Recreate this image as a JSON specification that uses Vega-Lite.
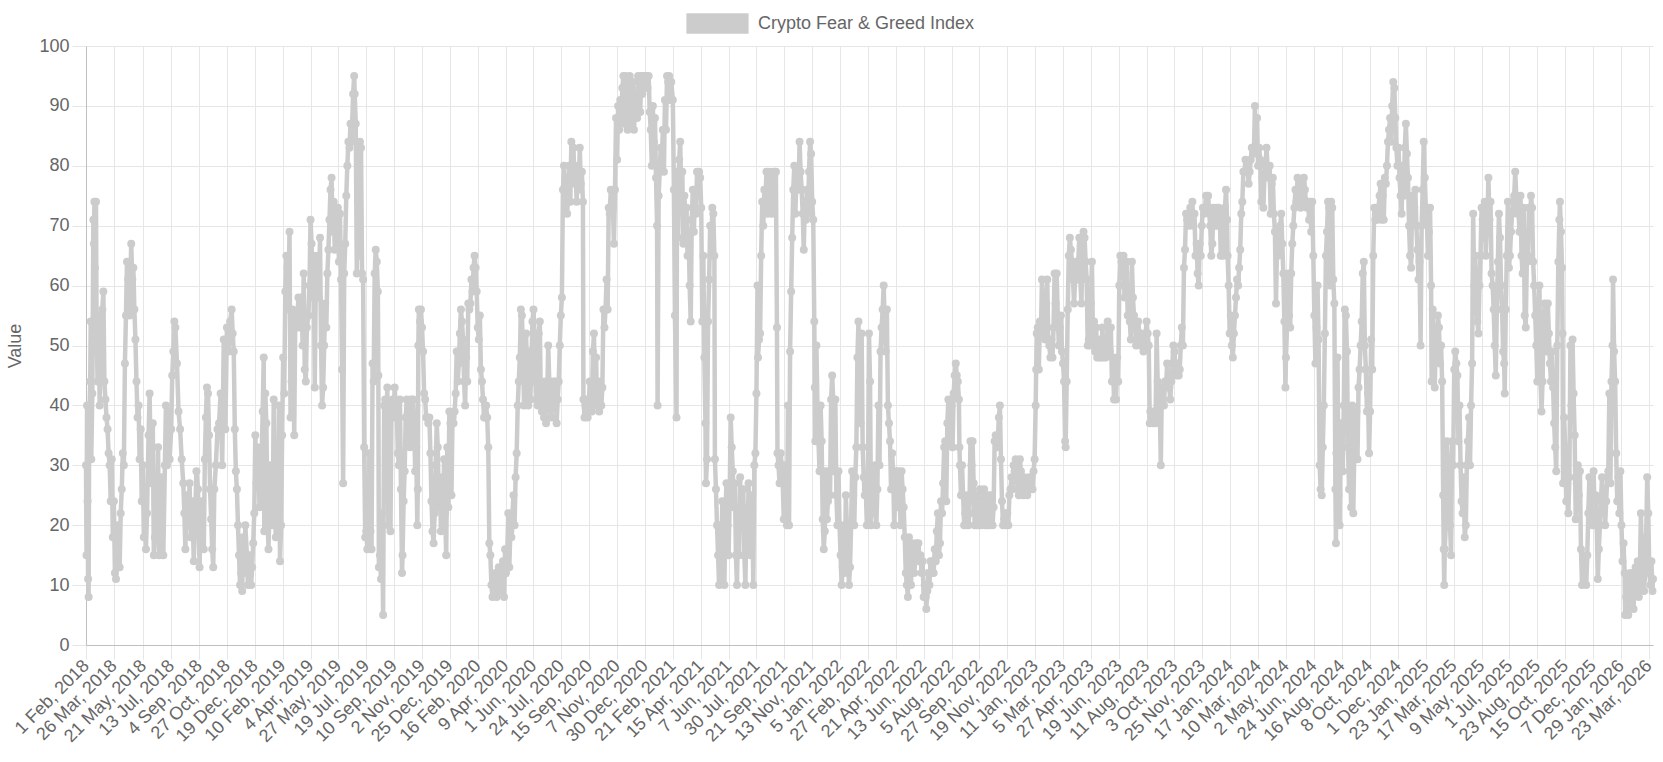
{
"$schema":"https://vega.github.io/schema/vega-lite/v6.json",
"width":1567,"height":599,
"autosize":{"type":"none"},
"padding":{"left":86,"top":46,"right":10,"bottom":117},
"background":"white",
"config":{"font":"Liberation Sans","view":{"stroke":null},
"axis":{"labelFont":"Liberation Sans","labelFontSize":18,"labelColor":"#666666","titleFont":"Liberation Sans","titleFontSize":18,"titleFontWeight":"normal","titleColor":"#666666","gridColor":"#e6e6e6","gridOpacity":1,"tickColor":"#e6e6e6","tickSize":14,"domainColor":"#bfbfbf"}},
"data":{"values":[
{"d":"2018-02-01","v":30},{"d":"2018-02-02","v":15},{"d":"2018-02-03","v":40},{"d":"2018-02-04","v":24},{"d":"2018-02-05","v":11},{"d":"2018-02-06","v":8},{"d":"2018-02-07","v":36},{"d":"2018-02-09","v":44},{"d":"2018-02-10","v":54},{"d":"2018-02-11","v":31},{"d":"2018-02-13","v":42},{"d":"2018-02-15","v":71},{"d":"2018-02-16","v":67},{"d":"2018-02-17","v":74},{"d":"2018-02-18","v":63},{"d":"2018-02-20","v":74},{"d":"2018-02-21","v":54},{"d":"2018-02-23","v":44},{"d":"2018-02-25","v":55},{"d":"2018-02-27","v":40},
{"d":"2018-03-01","v":49},{"d":"2018-03-04","v":56},{"d":"2018-03-06","v":59},{"d":"2018-03-08","v":44},{"d":"2018-03-10","v":41},{"d":"2018-03-12","v":38},{"d":"2018-03-14","v":36},{"d":"2018-03-16","v":32},{"d":"2018-03-18","v":30},{"d":"2018-03-20","v":24},{"d":"2018-03-22","v":31},{"d":"2018-03-24","v":18},{"d":"2018-03-26","v":24},{"d":"2018-03-28","v":12},{"d":"2018-03-30","v":11},
{"d":"2018-04-01","v":15},{"d":"2018-04-03","v":20},{"d":"2018-04-06","v":13},{"d":"2018-04-08","v":22},{"d":"2018-04-10","v":26},{"d":"2018-04-12","v":32},{"d":"2018-04-14","v":30},{"d":"2018-04-16","v":47},{"d":"2018-04-18","v":55},{"d":"2018-04-20","v":64},{"d":"2018-04-22","v":61},{"d":"2018-04-25","v":55},{"d":"2018-04-28","v":67},{"d":"2018-04-30","v":61},
{"d":"2018-05-02","v":63},{"d":"2018-05-04","v":56},{"d":"2018-05-06","v":51},{"d":"2018-05-08","v":44},{"d":"2018-05-10","v":38},{"d":"2018-05-12","v":40},{"d":"2018-05-14","v":31},{"d":"2018-05-16","v":36},{"d":"2018-05-18","v":24},{"d":"2018-05-20","v":30},{"d":"2018-05-22","v":18},{"d":"2018-05-24","v":26},{"d":"2018-05-26","v":16},{"d":"2018-05-28","v":22},{"d":"2018-05-31","v":35},
{"d":"2018-06-02","v":42},{"d":"2018-06-04","v":30},{"d":"2018-06-06","v":27},{"d":"2018-06-08","v":37},{"d":"2018-06-10","v":15},{"d":"2018-06-12","v":18},{"d":"2018-06-14","v":25},{"d":"2018-06-16","v":20},{"d":"2018-06-18","v":33},{"d":"2018-06-20","v":15},{"d":"2018-06-22","v":23},{"d":"2018-06-24","v":16},{"d":"2018-06-26","v":28},{"d":"2018-06-28","v":15},
{"d":"2018-07-01","v":30},{"d":"2018-07-03","v":40},{"d":"2018-07-05","v":30},{"d":"2018-07-08","v":39},{"d":"2018-07-10","v":31},{"d":"2018-07-13","v":36},{"d":"2018-07-15","v":45},{"d":"2018-07-17","v":49},{"d":"2018-07-19","v":54},{"d":"2018-07-21","v":53},{"d":"2018-07-24","v":47},{"d":"2018-07-27","v":39},{"d":"2018-07-30","v":36},
{"d":"2018-08-02","v":31},{"d":"2018-08-05","v":27},{"d":"2018-08-07","v":22},{"d":"2018-08-09","v":16},{"d":"2018-08-11","v":25},{"d":"2018-08-14","v":20},{"d":"2018-08-17","v":27},{"d":"2018-08-19","v":18},{"d":"2018-08-22","v":24},{"d":"2018-08-25","v":14},{"d":"2018-08-27","v":20},{"d":"2018-08-30","v":29},
{"d":"2018-09-02","v":26},{"d":"2018-09-05","v":13},{"d":"2018-09-07","v":22},{"d":"2018-09-10","v":24},{"d":"2018-09-13","v":16},{"d":"2018-09-15","v":31},{"d":"2018-09-17","v":38},{"d":"2018-09-19","v":43},{"d":"2018-09-21","v":42},{"d":"2018-09-23","v":35},{"d":"2018-09-25","v":26},{"d":"2018-09-27","v":21},{"d":"2018-09-29","v":16},
{"d":"2018-10-01","v":13},{"d":"2018-10-03","v":26},{"d":"2018-10-06","v":30},{"d":"2018-10-09","v":36},{"d":"2018-10-12","v":37},{"d":"2018-10-15","v":42},{"d":"2018-10-18","v":30},{"d":"2018-10-21","v":51},{"d":"2018-10-24","v":36},{"d":"2018-10-27","v":53},{"d":"2018-10-30","v":49},
{"d":"2018-11-02","v":54},{"d":"2018-11-05","v":56},{"d":"2018-11-07","v":52},{"d":"2018-11-09","v":49},{"d":"2018-11-11","v":36},{"d":"2018-11-13","v":29},{"d":"2018-11-15","v":26},{"d":"2018-11-17","v":20},{"d":"2018-11-19","v":15},{"d":"2018-11-21","v":10},{"d":"2018-11-23","v":12},{"d":"2018-11-25","v":9},{"d":"2018-11-27","v":18},{"d":"2018-11-29","v":12},
{"d":"2018-12-01","v":20},{"d":"2018-12-04","v":15},{"d":"2018-12-06","v":10},{"d":"2018-12-08","v":13},{"d":"2018-12-10","v":15},{"d":"2018-12-12","v":10},{"d":"2018-12-14","v":13},{"d":"2018-12-16","v":17},{"d":"2018-12-18","v":22},{"d":"2018-12-20","v":35},{"d":"2018-12-22","v":27},{"d":"2018-12-24","v":33},{"d":"2018-12-26","v":30},{"d":"2018-12-28","v":23},{"d":"2018-12-30","v":27},
{"d":"2019-01-01","v":31},{"d":"2019-01-03","v":39},{"d":"2019-01-05","v":48},{"d":"2019-01-06","v":19},{"d":"2019-01-08","v":42},{"d":"2019-01-10","v":37},{"d":"2019-01-12","v":22},{"d":"2019-01-14","v":16},{"d":"2019-01-16","v":23},{"d":"2019-01-18","v":30},{"d":"2019-01-20","v":27},{"d":"2019-01-22","v":20},{"d":"2019-01-24","v":41},{"d":"2019-01-26","v":23},{"d":"2019-01-28","v":18},{"d":"2019-01-30","v":25},
{"d":"2019-02-01","v":22},{"d":"2019-02-03","v":40},{"d":"2019-02-05","v":14},{"d":"2019-02-07","v":20},{"d":"2019-02-09","v":35},{"d":"2019-02-11","v":48},{"d":"2019-02-13","v":42},{"d":"2019-02-15","v":59},{"d":"2019-02-17","v":65},{"d":"2019-02-19","v":63},{"d":"2019-02-21","v":56},{"d":"2019-02-23","v":69},{"d":"2019-02-25","v":38},{"d":"2019-02-27","v":44},
{"d":"2019-03-01","v":56},{"d":"2019-03-04","v":35},{"d":"2019-03-06","v":55},{"d":"2019-03-08","v":53},{"d":"2019-03-10","v":55},{"d":"2019-03-12","v":58},{"d":"2019-03-14","v":53},{"d":"2019-03-16","v":55},{"d":"2019-03-18","v":58},{"d":"2019-03-20","v":50},{"d":"2019-03-22","v":62},{"d":"2019-03-24","v":46},{"d":"2019-03-26","v":44},{"d":"2019-03-28","v":53},{"d":"2019-03-31","v":55},
{"d":"2019-04-02","v":60},{"d":"2019-04-04","v":71},{"d":"2019-04-06","v":67},{"d":"2019-04-08","v":58},{"d":"2019-04-10","v":65},{"d":"2019-04-12","v":43},{"d":"2019-04-14","v":60},{"d":"2019-04-16","v":63},{"d":"2019-04-18","v":65},{"d":"2019-04-20","v":58},{"d":"2019-04-22","v":68},{"d":"2019-04-24","v":50},{"d":"2019-04-26","v":40},{"d":"2019-04-28","v":43},{"d":"2019-04-30","v":50},
{"d":"2019-05-02","v":57},{"d":"2019-05-04","v":53},{"d":"2019-05-06","v":62},{"d":"2019-05-08","v":66},{"d":"2019-05-10","v":71},{"d":"2019-05-12","v":76},{"d":"2019-05-14","v":78},{"d":"2019-05-16","v":69},{"d":"2019-05-18","v":74},{"d":"2019-05-20","v":66},{"d":"2019-05-22","v":71},{"d":"2019-05-24","v":68},{"d":"2019-05-26","v":73},{"d":"2019-05-28","v":64},{"d":"2019-05-30","v":72},
{"d":"2019-06-01","v":61},{"d":"2019-06-03","v":46},{"d":"2019-06-05","v":27},{"d":"2019-06-07","v":62},{"d":"2019-06-09","v":67},{"d":"2019-06-11","v":75},{"d":"2019-06-13","v":80},{"d":"2019-06-15","v":84},{"d":"2019-06-17","v":83},{"d":"2019-06-19","v":87},{"d":"2019-06-21","v":84},{"d":"2019-06-24","v":92},{"d":"2019-06-26","v":95},{"d":"2019-06-27","v":92},{"d":"2019-06-29","v":87},
{"d":"2019-07-01","v":62},{"d":"2019-07-03","v":74},{"d":"2019-07-05","v":65},{"d":"2019-07-07","v":84},{"d":"2019-07-09","v":83},{"d":"2019-07-11","v":62},{"d":"2019-07-13","v":61},{"d":"2019-07-15","v":33},{"d":"2019-07-17","v":18},{"d":"2019-07-19","v":19},{"d":"2019-07-21","v":16},{"d":"2019-07-23","v":22},{"d":"2019-07-25","v":32},{"d":"2019-07-27","v":19},{"d":"2019-07-29","v":16},{"d":"2019-07-31","v":47},
{"d":"2019-08-02","v":44},{"d":"2019-08-04","v":62},{"d":"2019-08-06","v":66},{"d":"2019-08-08","v":64},{"d":"2019-08-10","v":59},{"d":"2019-08-11","v":45},{"d":"2019-08-12","v":13},{"d":"2019-08-14","v":15},{"d":"2019-08-16","v":11},{"d":"2019-08-18","v":22},{"d":"2019-08-20","v":5},{"d":"2019-08-22","v":40},{"d":"2019-08-24","v":41},{"d":"2019-08-26","v":37},{"d":"2019-08-28","v":43},{"d":"2019-08-30","v":20},
{"d":"2019-09-01","v":39},{"d":"2019-09-03","v":19},{"d":"2019-09-05","v":40},{"d":"2019-09-07","v":41},{"d":"2019-09-09","v":38},{"d":"2019-09-11","v":43},{"d":"2019-09-13","v":40},{"d":"2019-09-15","v":39},{"d":"2019-09-17","v":32},{"d":"2019-09-19","v":30},{"d":"2019-09-21","v":41},{"d":"2019-09-23","v":26},{"d":"2019-09-25","v":12},{"d":"2019-09-26","v":15},{"d":"2019-09-28","v":24},{"d":"2019-09-30","v":29},
{"d":"2019-10-02","v":38},{"d":"2019-10-04","v":41},{"d":"2019-10-06","v":37},{"d":"2019-10-08","v":40},{"d":"2019-10-10","v":33},{"d":"2019-10-12","v":41},{"d":"2019-10-14","v":38},{"d":"2019-10-16","v":41},{"d":"2019-10-18","v":37},{"d":"2019-10-20","v":29},{"d":"2019-10-22","v":33},{"d":"2019-10-24","v":20},{"d":"2019-10-25","v":26},{"d":"2019-10-26","v":50},{"d":"2019-10-27","v":56},{"d":"2019-10-29","v":54},{"d":"2019-10-31","v":56},
{"d":"2019-11-02","v":53},{"d":"2019-11-04","v":49},{"d":"2019-11-06","v":42},{"d":"2019-11-08","v":41},{"d":"2019-11-10","v":38},{"d":"2019-11-12","v":38},{"d":"2019-11-14","v":37},{"d":"2019-11-16","v":38},{"d":"2019-11-18","v":32},{"d":"2019-11-20","v":24},{"d":"2019-11-22","v":19},{"d":"2019-11-24","v":17},{"d":"2019-11-26","v":22},{"d":"2019-11-28","v":30},{"d":"2019-11-30","v":37},
{"d":"2019-12-02","v":33},{"d":"2019-12-04","v":23},{"d":"2019-12-06","v":28},{"d":"2019-12-08","v":19},{"d":"2019-12-10","v":25},{"d":"2019-12-12","v":20},{"d":"2019-12-14","v":31},{"d":"2019-12-16","v":22},{"d":"2019-12-18","v":15},{"d":"2019-12-20","v":33},{"d":"2019-12-22","v":23},{"d":"2019-12-24","v":39},{"d":"2019-12-26","v":37},{"d":"2019-12-28","v":25},{"d":"2019-12-30","v":38},
{"d":"2020-01-01","v":37},{"d":"2020-01-03","v":39},{"d":"2020-01-05","v":42},{"d":"2020-01-07","v":49},{"d":"2020-01-09","v":44},{"d":"2020-01-11","v":47},{"d":"2020-01-13","v":52},{"d":"2020-01-15","v":56},{"d":"2020-01-17","v":54},{"d":"2020-01-19","v":51},{"d":"2020-01-21","v":44},{"d":"2020-01-23","v":40},{"d":"2020-01-25","v":48},{"d":"2020-01-27","v":44},{"d":"2020-01-29","v":57},{"d":"2020-01-31","v":56},
{"d":"2020-02-02","v":57},{"d":"2020-02-04","v":61},{"d":"2020-02-06","v":59},{"d":"2020-02-08","v":63},{"d":"2020-02-10","v":65},{"d":"2020-02-12","v":63},{"d":"2020-02-14","v":59},{"d":"2020-02-16","v":53},{"d":"2020-02-18","v":51},{"d":"2020-02-20","v":55},{"d":"2020-02-22","v":46},{"d":"2020-02-24","v":44},{"d":"2020-02-26","v":41},{"d":"2020-02-28","v":38},
{"d":"2020-03-01","v":38},{"d":"2020-03-03","v":40},{"d":"2020-03-05","v":38},{"d":"2020-03-07","v":33},{"d":"2020-03-09","v":17},{"d":"2020-03-11","v":15},{"d":"2020-03-13","v":10},{"d":"2020-03-15","v":8},{"d":"2020-03-17","v":11},{"d":"2020-03-19","v":9},{"d":"2020-03-21","v":12},{"d":"2020-03-23","v":8},{"d":"2020-03-25","v":11},{"d":"2020-03-27","v":13},{"d":"2020-03-29","v":9},{"d":"2020-03-31","v":12},
{"d":"2020-04-02","v":10},{"d":"2020-04-04","v":14},{"d":"2020-04-06","v":8},{"d":"2020-04-08","v":16},{"d":"2020-04-10","v":12},{"d":"2020-04-12","v":15},{"d":"2020-04-14","v":22},{"d":"2020-04-16","v":13},{"d":"2020-04-18","v":19},{"d":"2020-04-20","v":18},{"d":"2020-04-22","v":22},{"d":"2020-04-24","v":25},{"d":"2020-04-26","v":20},{"d":"2020-04-28","v":28},{"d":"2020-04-30","v":32},
{"d":"2020-05-02","v":40},{"d":"2020-05-04","v":44},{"d":"2020-05-06","v":48},{"d":"2020-05-08","v":56},{"d":"2020-05-10","v":55},{"d":"2020-05-12","v":49},{"d":"2020-05-14","v":40},{"d":"2020-05-16","v":44},{"d":"2020-05-18","v":52},{"d":"2020-05-20","v":42},{"d":"2020-05-22","v":40},{"d":"2020-05-24","v":49},{"d":"2020-05-26","v":41},{"d":"2020-05-28","v":47},{"d":"2020-05-30","v":54},
{"d":"2020-06-01","v":56},{"d":"2020-06-03","v":52},{"d":"2020-06-05","v":44},{"d":"2020-06-07","v":41},{"d":"2020-06-09","v":40},{"d":"2020-06-11","v":52},{"d":"2020-06-13","v":54},{"d":"2020-06-15","v":40},{"d":"2020-06-17","v":39},{"d":"2020-06-19","v":42},{"d":"2020-06-21","v":38},{"d":"2020-06-23","v":44},{"d":"2020-06-25","v":37},{"d":"2020-06-27","v":41},{"d":"2020-06-29","v":50},
{"d":"2020-07-01","v":44},{"d":"2020-07-03","v":42},{"d":"2020-07-05","v":38},{"d":"2020-07-07","v":41},{"d":"2020-07-09","v":44},{"d":"2020-07-11","v":40},{"d":"2020-07-13","v":44},{"d":"2020-07-15","v":37},{"d":"2020-07-17","v":41},{"d":"2020-07-19","v":44},{"d":"2020-07-21","v":50},{"d":"2020-07-23","v":55},{"d":"2020-07-25","v":58},{"d":"2020-07-27","v":76},{"d":"2020-07-29","v":80},{"d":"2020-07-31","v":75},
{"d":"2020-08-02","v":78},{"d":"2020-08-04","v":72},{"d":"2020-08-06","v":75},{"d":"2020-08-08","v":80},{"d":"2020-08-10","v":74},{"d":"2020-08-12","v":84},{"d":"2020-08-14","v":80},{"d":"2020-08-16","v":83},{"d":"2020-08-18","v":77},{"d":"2020-08-20","v":80},{"d":"2020-08-22","v":74},{"d":"2020-08-24","v":79},{"d":"2020-08-26","v":76},{"d":"2020-08-28","v":83},{"d":"2020-08-30","v":77},
{"d":"2020-09-01","v":79},{"d":"2020-09-03","v":74},{"d":"2020-09-04","v":41},{"d":"2020-09-06","v":38},{"d":"2020-09-08","v":40},{"d":"2020-09-10","v":41},{"d":"2020-09-12","v":38},{"d":"2020-09-14","v":40},{"d":"2020-09-16","v":44},{"d":"2020-09-18","v":41},{"d":"2020-09-20","v":39},{"d":"2020-09-22","v":49},{"d":"2020-09-24","v":52},{"d":"2020-09-26","v":41},{"d":"2020-09-28","v":48},{"d":"2020-09-30","v":40},
{"d":"2020-10-02","v":41},{"d":"2020-10-04","v":39},{"d":"2020-10-06","v":44},{"d":"2020-10-08","v":40},{"d":"2020-10-10","v":43},{"d":"2020-10-12","v":56},{"d":"2020-10-14","v":53},{"d":"2020-10-16","v":56},{"d":"2020-10-18","v":61},{"d":"2020-10-20","v":56},{"d":"2020-10-22","v":73},{"d":"2020-10-24","v":72},{"d":"2020-10-26","v":76},{"d":"2020-10-28","v":74},{"d":"2020-10-30","v":73},
{"d":"2020-11-01","v":67},{"d":"2020-11-03","v":76},{"d":"2020-11-05","v":88},{"d":"2020-11-07","v":81},{"d":"2020-11-09","v":90},{"d":"2020-11-11","v":86},{"d":"2020-11-13","v":91},{"d":"2020-11-15","v":88},{"d":"2020-11-17","v":93},{"d":"2020-11-19","v":95},{"d":"2020-11-21","v":87},{"d":"2020-11-23","v":95},{"d":"2020-11-25","v":90},{"d":"2020-11-27","v":86},{"d":"2020-11-29","v":88},
{"d":"2020-12-01","v":95},{"d":"2020-12-03","v":90},{"d":"2020-12-05","v":87},{"d":"2020-12-07","v":94},{"d":"2020-12-09","v":86},{"d":"2020-12-11","v":89},{"d":"2020-12-13","v":92},{"d":"2020-12-15","v":88},{"d":"2020-12-17","v":95},{"d":"2020-12-19","v":93},{"d":"2020-12-21","v":89},{"d":"2020-12-23","v":95},{"d":"2020-12-25","v":92},{"d":"2020-12-27","v":95},{"d":"2020-12-29","v":94},{"d":"2020-12-31","v":95},
{"d":"2021-01-02","v":95},{"d":"2021-01-04","v":93},{"d":"2021-01-06","v":95},{"d":"2021-01-08","v":89},{"d":"2021-01-10","v":86},{"d":"2021-01-12","v":80},{"d":"2021-01-14","v":90},{"d":"2021-01-16","v":84},{"d":"2021-01-18","v":88},{"d":"2021-01-20","v":78},{"d":"2021-01-22","v":70},{"d":"2021-01-23","v":40},{"d":"2021-01-25","v":75},{"d":"2021-01-27","v":79},{"d":"2021-01-29","v":83},{"d":"2021-01-31","v":81},
{"d":"2021-02-02","v":86},{"d":"2021-02-04","v":79},{"d":"2021-02-06","v":91},{"d":"2021-02-08","v":86},{"d":"2021-02-10","v":95},{"d":"2021-02-12","v":94},{"d":"2021-02-14","v":95},{"d":"2021-02-16","v":91},{"d":"2021-02-18","v":94},{"d":"2021-02-21","v":91},{"d":"2021-02-23","v":76},{"d":"2021-02-25","v":55},{"d":"2021-02-28","v":38},
{"d":"2021-03-01","v":79},{"d":"2021-03-03","v":68},{"d":"2021-03-05","v":81},{"d":"2021-03-07","v":84},{"d":"2021-03-09","v":75},{"d":"2021-03-11","v":79},{"d":"2021-03-13","v":67},{"d":"2021-03-15","v":75},{"d":"2021-03-17","v":71},{"d":"2021-03-19","v":73},{"d":"2021-03-21","v":65},{"d":"2021-03-23","v":69},{"d":"2021-03-25","v":60},{"d":"2021-03-27","v":54},{"d":"2021-03-29","v":71},{"d":"2021-03-31","v":76},
{"d":"2021-04-02","v":69},{"d":"2021-04-04","v":76},{"d":"2021-04-06","v":72},{"d":"2021-04-08","v":79},{"d":"2021-04-10","v":76},{"d":"2021-04-12","v":79},{"d":"2021-04-14","v":78},{"d":"2021-04-16","v":73},{"d":"2021-04-18","v":54},{"d":"2021-04-20","v":65},{"d":"2021-04-22","v":48},{"d":"2021-04-24","v":37},{"d":"2021-04-25","v":27},{"d":"2021-04-27","v":31},{"d":"2021-04-29","v":54},
{"d":"2021-05-01","v":61},{"d":"2021-05-03","v":70},{"d":"2021-05-05","v":65},{"d":"2021-05-07","v":73},{"d":"2021-05-09","v":72},{"d":"2021-05-11","v":65},{"d":"2021-05-12","v":31},{"d":"2021-05-14","v":26},{"d":"2021-05-16","v":20},{"d":"2021-05-18","v":15},{"d":"2021-05-20","v":10},{"d":"2021-05-22","v":20},{"d":"2021-05-24","v":11},{"d":"2021-05-26","v":24},{"d":"2021-05-28","v":15},{"d":"2021-05-30","v":10},
{"d":"2021-06-01","v":22},{"d":"2021-06-03","v":27},{"d":"2021-06-05","v":20},{"d":"2021-06-07","v":15},{"d":"2021-06-09","v":24},{"d":"2021-06-11","v":38},{"d":"2021-06-13","v":33},{"d":"2021-06-15","v":29},{"d":"2021-06-17","v":23},{"d":"2021-06-19","v":27},{"d":"2021-06-21","v":15},{"d":"2021-06-23","v":10},{"d":"2021-06-25","v":22},{"d":"2021-06-27","v":15},{"d":"2021-06-29","v":28},
{"d":"2021-07-01","v":20},{"d":"2021-07-03","v":23},{"d":"2021-07-05","v":26},{"d":"2021-07-07","v":15},{"d":"2021-07-09","v":10},{"d":"2021-07-11","v":22},{"d":"2021-07-13","v":16},{"d":"2021-07-15","v":27},{"d":"2021-07-17","v":20},{"d":"2021-07-19","v":15},{"d":"2021-07-22","v":25},{"d":"2021-07-24","v":10},{"d":"2021-07-26","v":30},{"d":"2021-07-28","v":32},{"d":"2021-07-30","v":42},
{"d":"2021-08-01","v":60},{"d":"2021-08-02","v":48},{"d":"2021-08-04","v":51},{"d":"2021-08-06","v":52},{"d":"2021-08-08","v":65},{"d":"2021-08-10","v":74},{"d":"2021-08-12","v":70},{"d":"2021-08-14","v":76},{"d":"2021-08-16","v":74},{"d":"2021-08-18","v":79},{"d":"2021-08-20","v":72},{"d":"2021-08-22","v":79},{"d":"2021-08-24","v":74},{"d":"2021-08-26","v":76},{"d":"2021-08-28","v":72},{"d":"2021-08-30","v":79},
{"d":"2021-09-01","v":74},{"d":"2021-09-03","v":79},{"d":"2021-09-05","v":79},{"d":"2021-09-07","v":53},{"d":"2021-09-08","v":32},{"d":"2021-09-10","v":30},{"d":"2021-09-12","v":27},{"d":"2021-09-14","v":32},{"d":"2021-09-16","v":30},{"d":"2021-09-18","v":27},{"d":"2021-09-20","v":21},{"d":"2021-09-22","v":30},{"d":"2021-09-24","v":27},{"d":"2021-09-26","v":20},{"d":"2021-09-28","v":40},{"d":"2021-09-30","v":20},
{"d":"2021-10-02","v":49},{"d":"2021-10-04","v":59},{"d":"2021-10-06","v":68},{"d":"2021-10-08","v":76},{"d":"2021-10-10","v":80},{"d":"2021-10-12","v":72},{"d":"2021-10-14","v":78},{"d":"2021-10-16","v":79},{"d":"2021-10-18","v":76},{"d":"2021-10-20","v":84},{"d":"2021-10-22","v":79},{"d":"2021-10-24","v":76},{"d":"2021-10-26","v":72},{"d":"2021-10-28","v":66},{"d":"2021-10-30","v":74},
{"d":"2021-11-01","v":71},{"d":"2021-11-03","v":76},{"d":"2021-11-05","v":72},{"d":"2021-11-07","v":79},{"d":"2021-11-09","v":84},{"d":"2021-11-11","v":82},{"d":"2021-11-13","v":74},{"d":"2021-11-15","v":71},{"d":"2021-11-17","v":54},{"d":"2021-11-18","v":43},{"d":"2021-11-19","v":34},{"d":"2021-11-21","v":50},{"d":"2021-11-23","v":40},{"d":"2021-11-25","v":34},{"d":"2021-11-27","v":29},{"d":"2021-11-29","v":40},
{"d":"2021-12-01","v":34},{"d":"2021-12-03","v":21},{"d":"2021-12-05","v":16},{"d":"2021-12-07","v":19},{"d":"2021-12-09","v":29},{"d":"2021-12-11","v":21},{"d":"2021-12-13","v":24},{"d":"2021-12-15","v":29},{"d":"2021-12-17","v":25},{"d":"2021-12-19","v":41},{"d":"2021-12-21","v":45},{"d":"2021-12-23","v":41},{"d":"2021-12-25","v":29},{"d":"2021-12-27","v":41},{"d":"2021-12-29","v":25},{"d":"2021-12-31","v":20},
{"d":"2022-01-02","v":29},{"d":"2022-01-04","v":20},{"d":"2022-01-06","v":15},{"d":"2022-01-08","v":10},{"d":"2022-01-10","v":13},{"d":"2022-01-12","v":20},{"d":"2022-01-14","v":12},{"d":"2022-01-16","v":25},{"d":"2022-01-18","v":20},{"d":"2022-01-20","v":15},{"d":"2022-01-22","v":10},{"d":"2022-01-24","v":13},{"d":"2022-01-26","v":20},{"d":"2022-01-28","v":29},{"d":"2022-01-30","v":25},
{"d":"2022-02-01","v":20},{"d":"2022-02-03","v":28},{"d":"2022-02-05","v":33},{"d":"2022-02-07","v":48},{"d":"2022-02-09","v":54},{"d":"2022-02-11","v":44},{"d":"2022-02-13","v":37},{"d":"2022-02-15","v":52},{"d":"2022-02-17","v":33},{"d":"2022-02-19","v":28},{"d":"2022-02-21","v":25},{"d":"2022-02-23","v":26},{"d":"2022-02-25","v":20},{"d":"2022-02-27","v":26},
{"d":"2022-03-01","v":52},{"d":"2022-03-03","v":44},{"d":"2022-03-05","v":20},{"d":"2022-03-07","v":26},{"d":"2022-03-09","v":22},{"d":"2022-03-11","v":23},{"d":"2022-03-13","v":30},{"d":"2022-03-15","v":20},{"d":"2022-03-17","v":26},{"d":"2022-03-19","v":40},{"d":"2022-03-21","v":30},{"d":"2022-03-23","v":49},{"d":"2022-03-25","v":53},{"d":"2022-03-27","v":56},{"d":"2022-03-29","v":60},{"d":"2022-03-31","v":53},
{"d":"2022-04-02","v":49},{"d":"2022-04-04","v":56},{"d":"2022-04-06","v":40},{"d":"2022-04-08","v":37},{"d":"2022-04-10","v":34},{"d":"2022-04-12","v":26},{"d":"2022-04-14","v":32},{"d":"2022-04-16","v":29},{"d":"2022-04-18","v":20},{"d":"2022-04-20","v":26},{"d":"2022-04-22","v":29},{"d":"2022-04-24","v":23},{"d":"2022-04-26","v":29},{"d":"2022-04-28","v":26},{"d":"2022-04-30","v":20},
{"d":"2022-05-02","v":29},{"d":"2022-05-04","v":26},{"d":"2022-05-06","v":23},{"d":"2022-05-08","v":18},{"d":"2022-05-10","v":12},{"d":"2022-05-12","v":10},{"d":"2022-05-14","v":8},{"d":"2022-05-16","v":18},{"d":"2022-05-18","v":12},{"d":"2022-05-20","v":10},{"d":"2022-05-22","v":17},{"d":"2022-05-24","v":15},{"d":"2022-05-26","v":12},{"d":"2022-05-28","v":14},{"d":"2022-05-30","v":17},
{"d":"2022-06-01","v":15},{"d":"2022-06-03","v":17},{"d":"2022-06-05","v":14},{"d":"2022-06-07","v":15},{"d":"2022-06-09","v":12},{"d":"2022-06-11","v":14},{"d":"2022-06-13","v":8},{"d":"2022-06-15","v":10},{"d":"2022-06-17","v":8},{"d":"2022-06-18","v":6},{"d":"2022-06-20","v":9},{"d":"2022-06-22","v":12},{"d":"2022-06-24","v":10},{"d":"2022-06-26","v":14},{"d":"2022-06-28","v":12},{"d":"2022-06-30","v":14},
{"d":"2022-07-02","v":12},{"d":"2022-07-04","v":16},{"d":"2022-07-06","v":14},{"d":"2022-07-08","v":19},{"d":"2022-07-10","v":22},{"d":"2022-07-12","v":15},{"d":"2022-07-14","v":17},{"d":"2022-07-16","v":24},{"d":"2022-07-18","v":22},{"d":"2022-07-20","v":27},{"d":"2022-07-22","v":33},{"d":"2022-07-24","v":34},{"d":"2022-07-26","v":24},{"d":"2022-07-28","v":37},{"d":"2022-07-30","v":41},
{"d":"2022-08-01","v":34},{"d":"2022-08-03","v":37},{"d":"2022-08-05","v":40},{"d":"2022-08-07","v":33},{"d":"2022-08-09","v":42},{"d":"2022-08-11","v":45},{"d":"2022-08-13","v":47},{"d":"2022-08-15","v":45},{"d":"2022-08-17","v":44},{"d":"2022-08-19","v":41},{"d":"2022-08-20","v":33},{"d":"2022-08-21","v":30},{"d":"2022-08-23","v":25},{"d":"2022-08-25","v":30},{"d":"2022-08-27","v":25},{"d":"2022-08-29","v":20},{"d":"2022-08-31","v":22},
{"d":"2022-09-02","v":20},{"d":"2022-09-04","v":25},{"d":"2022-09-06","v":20},{"d":"2022-09-08","v":22},{"d":"2022-09-10","v":34},{"d":"2022-09-12","v":30},{"d":"2022-09-14","v":34},{"d":"2022-09-16","v":27},{"d":"2022-09-18","v":20},{"d":"2022-09-20","v":22},{"d":"2022-09-22","v":20},{"d":"2022-09-24","v":25},{"d":"2022-09-26","v":20},{"d":"2022-09-28","v":26},{"d":"2022-09-30","v":20},
{"d":"2022-10-02","v":25},{"d":"2022-10-04","v":23},{"d":"2022-10-06","v":26},{"d":"2022-10-08","v":20},{"d":"2022-10-10","v":23},{"d":"2022-10-12","v":20},{"d":"2022-10-14","v":25},{"d":"2022-10-16","v":20},{"d":"2022-10-18","v":22},{"d":"2022-10-20","v":25},{"d":"2022-10-22","v":20},{"d":"2022-10-24","v":23},{"d":"2022-10-26","v":34},{"d":"2022-10-28","v":35},{"d":"2022-10-30","v":33},
{"d":"2022-11-01","v":34},{"d":"2022-11-03","v":38},{"d":"2022-11-05","v":40},{"d":"2022-11-07","v":31},{"d":"2022-11-09","v":24},{"d":"2022-11-11","v":20},{"d":"2022-11-13","v":21},{"d":"2022-11-15","v":22},{"d":"2022-11-17","v":20},{"d":"2022-11-19","v":22},{"d":"2022-11-21","v":20},{"d":"2022-11-23","v":25},{"d":"2022-11-25","v":26},{"d":"2022-11-27","v":28},{"d":"2022-11-29","v":26},
{"d":"2022-12-01","v":30},{"d":"2022-12-03","v":29},{"d":"2022-12-05","v":31},{"d":"2022-12-07","v":28},{"d":"2022-12-09","v":26},{"d":"2022-12-11","v":25},{"d":"2022-12-13","v":31},{"d":"2022-12-15","v":29},{"d":"2022-12-17","v":26},{"d":"2022-12-19","v":25},{"d":"2022-12-21","v":28},{"d":"2022-12-23","v":26},{"d":"2022-12-25","v":27},{"d":"2022-12-27","v":25},{"d":"2022-12-29","v":26},{"d":"2022-12-31","v":28},
{"d":"2023-01-02","v":26},{"d":"2023-01-04","v":28},{"d":"2023-01-06","v":26},{"d":"2023-01-08","v":29},{"d":"2023-01-10","v":31},{"d":"2023-01-12","v":40},{"d":"2023-01-13","v":46},{"d":"2023-01-14","v":52},{"d":"2023-01-16","v":53},{"d":"2023-01-18","v":46},{"d":"2023-01-20","v":54},{"d":"2023-01-22","v":52},{"d":"2023-01-24","v":61},{"d":"2023-01-26","v":54},{"d":"2023-01-28","v":57},{"d":"2023-01-30","v":51},
{"d":"2023-02-01","v":57},{"d":"2023-02-03","v":61},{"d":"2023-02-05","v":51},{"d":"2023-02-07","v":50},{"d":"2023-02-09","v":48},{"d":"2023-02-11","v":51},{"d":"2023-02-13","v":48},{"d":"2023-02-15","v":53},{"d":"2023-02-17","v":62},{"d":"2023-02-19","v":57},{"d":"2023-02-21","v":62},{"d":"2023-02-23","v":55},{"d":"2023-02-25","v":50},{"d":"2023-02-27","v":53},
{"d":"2023-03-01","v":55},{"d":"2023-03-03","v":49},{"d":"2023-03-05","v":47},{"d":"2023-03-07","v":44},{"d":"2023-03-09","v":34},{"d":"2023-03-10","v":33},{"d":"2023-03-12","v":44},{"d":"2023-03-14","v":56},{"d":"2023-03-16","v":65},{"d":"2023-03-18","v":68},{"d":"2023-03-20","v":66},{"d":"2023-03-22","v":64},{"d":"2023-03-24","v":61},{"d":"2023-03-26","v":57},{"d":"2023-03-28","v":61},{"d":"2023-03-30","v":64},
{"d":"2023-04-01","v":61},{"d":"2023-04-03","v":64},{"d":"2023-04-05","v":68},{"d":"2023-04-07","v":61},{"d":"2023-04-09","v":57},{"d":"2023-04-11","v":66},{"d":"2023-04-13","v":69},{"d":"2023-04-15","v":68},{"d":"2023-04-17","v":64},{"d":"2023-04-19","v":61},{"d":"2023-04-21","v":50},{"d":"2023-04-23","v":51},{"d":"2023-04-25","v":50},{"d":"2023-04-27","v":57},{"d":"2023-04-29","v":64},
{"d":"2023-05-01","v":51},{"d":"2023-05-03","v":54},{"d":"2023-05-05","v":49},{"d":"2023-05-07","v":53},{"d":"2023-05-09","v":48},{"d":"2023-05-11","v":49},{"d":"2023-05-13","v":48},{"d":"2023-05-15","v":51},{"d":"2023-05-17","v":48},{"d":"2023-05-19","v":53},{"d":"2023-05-21","v":48},{"d":"2023-05-23","v":51},{"d":"2023-05-25","v":48},{"d":"2023-05-27","v":49},{"d":"2023-05-29","v":54},{"d":"2023-05-31","v":51},
{"d":"2023-06-02","v":49},{"d":"2023-06-04","v":53},{"d":"2023-06-06","v":44},{"d":"2023-06-08","v":48},{"d":"2023-06-10","v":41},{"d":"2023-06-12","v":44},{"d":"2023-06-14","v":41},{"d":"2023-06-16","v":48},{"d":"2023-06-18","v":44},{"d":"2023-06-20","v":60},{"d":"2023-06-22","v":65},{"d":"2023-06-24","v":64},{"d":"2023-06-26","v":62},{"d":"2023-06-28","v":65},{"d":"2023-06-30","v":58},
{"d":"2023-07-02","v":62},{"d":"2023-07-04","v":64},{"d":"2023-07-06","v":55},{"d":"2023-07-08","v":58},{"d":"2023-07-10","v":54},{"d":"2023-07-12","v":51},{"d":"2023-07-14","v":64},{"d":"2023-07-16","v":58},{"d":"2023-07-18","v":55},{"d":"2023-07-20","v":54},{"d":"2023-07-22","v":50},{"d":"2023-07-24","v":51},{"d":"2023-07-26","v":54},{"d":"2023-07-28","v":52},{"d":"2023-07-30","v":50},
{"d":"2023-08-01","v":52},{"d":"2023-08-03","v":50},{"d":"2023-08-05","v":49},{"d":"2023-08-07","v":50},{"d":"2023-08-09","v":52},{"d":"2023-08-11","v":54},{"d":"2023-08-13","v":52},{"d":"2023-08-15","v":50},{"d":"2023-08-17","v":37},{"d":"2023-08-18","v":39},{"d":"2023-08-20","v":38},{"d":"2023-08-22","v":37},{"d":"2023-08-24","v":39},{"d":"2023-08-26","v":38},{"d":"2023-08-28","v":37},{"d":"2023-08-30","v":52},
{"d":"2023-09-01","v":44},{"d":"2023-09-03","v":41},{"d":"2023-09-05","v":40},{"d":"2023-09-07","v":30},{"d":"2023-09-09","v":43},{"d":"2023-09-11","v":41},{"d":"2023-09-13","v":40},{"d":"2023-09-15","v":44},{"d":"2023-09-17","v":43},{"d":"2023-09-19","v":47},{"d":"2023-09-21","v":44},{"d":"2023-09-23","v":43},{"d":"2023-09-25","v":41},{"d":"2023-09-27","v":44},{"d":"2023-09-29","v":47},
{"d":"2023-10-01","v":50},{"d":"2023-10-03","v":49},{"d":"2023-10-05","v":46},{"d":"2023-10-07","v":45},{"d":"2023-10-09","v":47},{"d":"2023-10-11","v":45},{"d":"2023-10-13","v":46},{"d":"2023-10-15","v":50},{"d":"2023-10-17","v":53},{"d":"2023-10-19","v":50},{"d":"2023-10-21","v":63},{"d":"2023-10-23","v":66},{"d":"2023-10-25","v":72},{"d":"2023-10-27","v":71},{"d":"2023-10-29","v":72},{"d":"2023-10-31","v":70},
{"d":"2023-11-02","v":73},{"d":"2023-11-04","v":72},{"d":"2023-11-06","v":74},{"d":"2023-11-08","v":70},{"d":"2023-11-10","v":72},{"d":"2023-11-12","v":65},{"d":"2023-11-14","v":67},{"d":"2023-11-16","v":62},{"d":"2023-11-18","v":60},{"d":"2023-11-20","v":67},{"d":"2023-11-22","v":65},{"d":"2023-11-24","v":70},{"d":"2023-11-26","v":73},{"d":"2023-11-28","v":72},{"d":"2023-11-30","v":73},
{"d":"2023-12-02","v":75},{"d":"2023-12-04","v":73},{"d":"2023-12-06","v":75},{"d":"2023-12-08","v":72},{"d":"2023-12-10","v":70},{"d":"2023-12-12","v":65},{"d":"2023-12-14","v":67},{"d":"2023-12-16","v":73},{"d":"2023-12-18","v":70},{"d":"2023-12-20","v":72},{"d":"2023-12-22","v":73},{"d":"2023-12-24","v":70},{"d":"2023-12-26","v":73},{"d":"2023-12-28","v":72},{"d":"2023-12-30","v":65},
{"d":"2024-01-01","v":72},{"d":"2024-01-03","v":65},{"d":"2024-01-05","v":70},{"d":"2024-01-07","v":73},{"d":"2024-01-09","v":76},{"d":"2024-01-11","v":71},{"d":"2024-01-12","v":65},{"d":"2024-01-14","v":60},{"d":"2024-01-16","v":52},{"d":"2024-01-18","v":55},{"d":"2024-01-20","v":50},{"d":"2024-01-22","v":48},{"d":"2024-01-24","v":52},{"d":"2024-01-26","v":55},{"d":"2024-01-28","v":58},{"d":"2024-01-30","v":61},
{"d":"2024-02-01","v":60},{"d":"2024-02-03","v":63},{"d":"2024-02-05","v":66},{"d":"2024-02-07","v":72},{"d":"2024-02-09","v":74},{"d":"2024-02-11","v":79},{"d":"2024-02-13","v":79},{"d":"2024-02-15","v":81},{"d":"2024-02-17","v":79},{"d":"2024-02-19","v":80},{"d":"2024-02-21","v":77},{"d":"2024-02-23","v":79},{"d":"2024-02-25","v":81},{"d":"2024-02-27","v":83},{"d":"2024-02-29","v":83},
{"d":"2024-03-02","v":82},{"d":"2024-03-04","v":90},{"d":"2024-03-06","v":83},{"d":"2024-03-08","v":88},{"d":"2024-03-10","v":80},{"d":"2024-03-12","v":83},{"d":"2024-03-14","v":81},{"d":"2024-03-16","v":74},{"d":"2024-03-18","v":78},{"d":"2024-03-20","v":73},{"d":"2024-03-22","v":78},{"d":"2024-03-24","v":80},{"d":"2024-03-26","v":83},{"d":"2024-03-28","v":80},{"d":"2024-03-30","v":78},
{"d":"2024-04-01","v":80},{"d":"2024-04-03","v":72},{"d":"2024-04-05","v":77},{"d":"2024-04-07","v":78},{"d":"2024-04-09","v":72},{"d":"2024-04-11","v":69},{"d":"2024-04-13","v":57},{"d":"2024-04-15","v":67},{"d":"2024-04-17","v":65},{"d":"2024-04-19","v":69},{"d":"2024-04-21","v":70},{"d":"2024-04-23","v":72},{"d":"2024-04-25","v":67},{"d":"2024-04-27","v":62},{"d":"2024-04-29","v":54},
{"d":"2024-05-01","v":43},{"d":"2024-05-02","v":48},{"d":"2024-05-04","v":53},{"d":"2024-05-06","v":62},{"d":"2024-05-08","v":55},{"d":"2024-05-10","v":53},{"d":"2024-05-12","v":62},{"d":"2024-05-14","v":67},{"d":"2024-05-16","v":70},{"d":"2024-05-18","v":73},{"d":"2024-05-20","v":76},{"d":"2024-05-22","v":74},{"d":"2024-05-24","v":78},{"d":"2024-05-26","v":76},{"d":"2024-05-28","v":74},{"d":"2024-05-30","v":73},
{"d":"2024-06-01","v":74},{"d":"2024-06-03","v":77},{"d":"2024-06-05","v":78},{"d":"2024-06-07","v":76},{"d":"2024-06-09","v":74},{"d":"2024-06-11","v":73},{"d":"2024-06-13","v":74},{"d":"2024-06-15","v":71},{"d":"2024-06-17","v":74},{"d":"2024-06-19","v":69},{"d":"2024-06-21","v":74},{"d":"2024-06-23","v":65},{"d":"2024-06-25","v":55},{"d":"2024-06-27","v":47},{"d":"2024-06-29","v":53},
{"d":"2024-07-01","v":60},{"d":"2024-07-03","v":51},{"d":"2024-07-05","v":30},{"d":"2024-07-07","v":26},{"d":"2024-07-09","v":25},{"d":"2024-07-11","v":33},{"d":"2024-07-13","v":40},{"d":"2024-07-15","v":52},{"d":"2024-07-17","v":65},{"d":"2024-07-19","v":69},{"d":"2024-07-21","v":74},{"d":"2024-07-23","v":73},{"d":"2024-07-25","v":60},{"d":"2024-07-27","v":74},{"d":"2024-07-29","v":73},{"d":"2024-07-31","v":61},
{"d":"2024-08-02","v":57},{"d":"2024-08-04","v":26},{"d":"2024-08-05","v":17},{"d":"2024-08-06","v":32},{"d":"2024-08-08","v":48},{"d":"2024-08-10","v":25},{"d":"2024-08-12","v":20},{"d":"2024-08-14","v":37},{"d":"2024-08-16","v":34},{"d":"2024-08-18","v":29},{"d":"2024-08-20","v":40},{"d":"2024-08-22","v":56},{"d":"2024-08-24","v":55},{"d":"2024-08-26","v":49},{"d":"2024-08-28","v":33},{"d":"2024-08-30","v":26},
{"d":"2024-09-01","v":29},{"d":"2024-09-03","v":23},{"d":"2024-09-05","v":40},{"d":"2024-09-07","v":22},{"d":"2024-09-09","v":33},{"d":"2024-09-11","v":37},{"d":"2024-09-13","v":39},{"d":"2024-09-15","v":31},{"d":"2024-09-17","v":43},{"d":"2024-09-19","v":46},{"d":"2024-09-21","v":50},{"d":"2024-09-23","v":54},{"d":"2024-09-25","v":62},{"d":"2024-09-27","v":64},{"d":"2024-09-29","v":50},
{"d":"2024-10-01","v":46},{"d":"2024-10-03","v":39},{"d":"2024-10-05","v":42},{"d":"2024-10-07","v":32},{"d":"2024-10-09","v":39},{"d":"2024-10-11","v":51},{"d":"2024-10-13","v":46},{"d":"2024-10-15","v":65},{"d":"2024-10-17","v":73},{"d":"2024-10-19","v":71},{"d":"2024-10-21","v":73},{"d":"2024-10-23","v":71},{"d":"2024-10-25","v":73},{"d":"2024-10-27","v":75},{"d":"2024-10-29","v":77},{"d":"2024-10-31","v":71},
{"d":"2024-11-02","v":75},{"d":"2024-11-04","v":71},{"d":"2024-11-06","v":78},{"d":"2024-11-08","v":77},{"d":"2024-11-10","v":80},{"d":"2024-11-12","v":84},{"d":"2024-11-14","v":86},{"d":"2024-11-16","v":88},{"d":"2024-11-18","v":84},{"d":"2024-11-20","v":90},{"d":"2024-11-22","v":94},{"d":"2024-11-24","v":93},{"d":"2024-11-26","v":88},{"d":"2024-11-28","v":83},{"d":"2024-11-30","v":80},
{"d":"2024-12-02","v":83},{"d":"2024-12-04","v":78},{"d":"2024-12-06","v":75},{"d":"2024-12-08","v":72},{"d":"2024-12-10","v":80},{"d":"2024-12-12","v":75},{"d":"2024-12-14","v":83},{"d":"2024-12-16","v":87},{"d":"2024-12-18","v":82},{"d":"2024-12-20","v":78},{"d":"2024-12-22","v":70},{"d":"2024-12-24","v":65},{"d":"2024-12-26","v":63},{"d":"2024-12-28","v":75},{"d":"2024-12-30","v":73},
{"d":"2025-01-01","v":73},{"d":"2025-01-03","v":76},{"d":"2025-01-05","v":70},{"d":"2025-01-07","v":66},{"d":"2025-01-09","v":61},{"d":"2025-01-11","v":64},{"d":"2025-01-13","v":50},{"d":"2025-01-15","v":70},{"d":"2025-01-17","v":76},{"d":"2025-01-19","v":84},{"d":"2025-01-21","v":78},{"d":"2025-01-23","v":73},{"d":"2025-01-25","v":71},{"d":"2025-01-27","v":65},{"d":"2025-01-29","v":69},{"d":"2025-01-31","v":73},
{"d":"2025-02-02","v":60},{"d":"2025-02-03","v":44},{"d":"2025-02-05","v":56},{"d":"2025-02-07","v":49},{"d":"2025-02-09","v":43},{"d":"2025-02-11","v":52},{"d":"2025-02-13","v":50},{"d":"2025-02-15","v":55},{"d":"2025-02-17","v":53},{"d":"2025-02-19","v":47},{"d":"2025-02-21","v":50},{"d":"2025-02-23","v":44},{"d":"2025-02-25","v":25},{"d":"2025-02-26","v":16},{"d":"2025-02-27","v":10},{"d":"2025-02-28","v":16},
{"d":"2025-03-02","v":20},{"d":"2025-03-04","v":34},{"d":"2025-03-06","v":30},{"d":"2025-03-08","v":25},{"d":"2025-03-10","v":20},{"d":"2025-03-12","v":15},{"d":"2025-03-14","v":34},{"d":"2025-03-16","v":30},{"d":"2025-03-18","v":46},{"d":"2025-03-20","v":49},{"d":"2025-03-22","v":47},{"d":"2025-03-24","v":45},{"d":"2025-03-26","v":34},{"d":"2025-03-28","v":40},{"d":"2025-03-30","v":30},
{"d":"2025-04-01","v":24},{"d":"2025-04-03","v":22},{"d":"2025-04-05","v":28},{"d":"2025-04-07","v":18},{"d":"2025-04-09","v":20},{"d":"2025-04-11","v":30},{"d":"2025-04-13","v":34},{"d":"2025-04-15","v":38},{"d":"2025-04-17","v":30},{"d":"2025-04-19","v":40},{"d":"2025-04-21","v":47},{"d":"2025-04-23","v":72},{"d":"2025-04-25","v":60},{"d":"2025-04-27","v":65},{"d":"2025-04-29","v":57},
{"d":"2025-05-01","v":54},{"d":"2025-05-03","v":52},{"d":"2025-05-05","v":60},{"d":"2025-05-07","v":65},{"d":"2025-05-09","v":73},{"d":"2025-05-11","v":71},{"d":"2025-05-13","v":68},{"d":"2025-05-15","v":74},{"d":"2025-05-17","v":65},{"d":"2025-05-19","v":70},{"d":"2025-05-21","v":74},{"d":"2025-05-22","v":78},{"d":"2025-05-24","v":71},{"d":"2025-05-26","v":74},{"d":"2025-05-28","v":62},{"d":"2025-05-30","v":60},
{"d":"2025-06-01","v":56},{"d":"2025-06-03","v":50},{"d":"2025-06-05","v":45},{"d":"2025-06-07","v":56},{"d":"2025-06-09","v":64},{"d":"2025-06-11","v":72},{"d":"2025-06-13","v":68},{"d":"2025-06-15","v":60},{"d":"2025-06-17","v":56},{"d":"2025-06-19","v":49},{"d":"2025-06-21","v":47},{"d":"2025-06-22","v":42},{"d":"2025-06-24","v":56},{"d":"2025-06-26","v":65},{"d":"2025-06-28","v":74},{"d":"2025-06-30","v":63},
{"d":"2025-07-02","v":65},{"d":"2025-07-04","v":69},{"d":"2025-07-06","v":72},{"d":"2025-07-08","v":74},{"d":"2025-07-10","v":75},{"d":"2025-07-12","v":79},{"d":"2025-07-14","v":75},{"d":"2025-07-16","v":72},{"d":"2025-07-18","v":73},{"d":"2025-07-20","v":69},{"d":"2025-07-22","v":75},{"d":"2025-07-24","v":65},{"d":"2025-07-26","v":62},{"d":"2025-07-28","v":73},{"d":"2025-07-30","v":55},
{"d":"2025-08-01","v":53},{"d":"2025-08-03","v":64},{"d":"2025-08-05","v":65},{"d":"2025-08-07","v":73},{"d":"2025-08-09","v":69},{"d":"2025-08-11","v":75},{"d":"2025-08-13","v":73},{"d":"2025-08-15","v":64},{"d":"2025-08-17","v":60},{"d":"2025-08-19","v":55},{"d":"2025-08-21","v":50},{"d":"2025-08-23","v":44},{"d":"2025-08-25","v":53},{"d":"2025-08-27","v":60},{"d":"2025-08-29","v":44},{"d":"2025-08-31","v":39},
{"d":"2025-09-02","v":44},{"d":"2025-09-04","v":54},{"d":"2025-09-06","v":57},{"d":"2025-09-08","v":52},{"d":"2025-09-10","v":49},{"d":"2025-09-12","v":57},{"d":"2025-09-14","v":52},{"d":"2025-09-16","v":47},{"d":"2025-09-18","v":44},{"d":"2025-09-20","v":49},{"d":"2025-09-22","v":43},{"d":"2025-09-24","v":37},{"d":"2025-09-26","v":33},{"d":"2025-09-28","v":29},{"d":"2025-09-30","v":50},
{"d":"2025-10-02","v":64},{"d":"2025-10-04","v":71},{"d":"2025-10-05","v":74},{"d":"2025-10-07","v":69},{"d":"2025-10-09","v":63},{"d":"2025-10-10","v":52},{"d":"2025-10-11","v":27},{"d":"2025-10-13","v":38},{"d":"2025-10-15","v":33},{"d":"2025-10-17","v":24},{"d":"2025-10-19","v":29},{"d":"2025-10-21","v":22},{"d":"2025-10-23","v":28},{"d":"2025-10-25","v":50},{"d":"2025-10-27","v":40},{"d":"2025-10-29","v":51},{"d":"2025-10-31","v":42},
{"d":"2025-11-02","v":35},{"d":"2025-11-04","v":21},{"d":"2025-11-06","v":27},{"d":"2025-11-08","v":30},{"d":"2025-11-10","v":25},{"d":"2025-11-12","v":29},{"d":"2025-11-14","v":16},{"d":"2025-11-16","v":10},{"d":"2025-11-18","v":15},{"d":"2025-11-20","v":11},{"d":"2025-11-22","v":14},{"d":"2025-11-24","v":10},{"d":"2025-11-26","v":15},{"d":"2025-11-28","v":22},{"d":"2025-11-30","v":28},
{"d":"2025-12-02","v":23},{"d":"2025-12-04","v":26},{"d":"2025-12-06","v":20},{"d":"2025-12-08","v":29},{"d":"2025-12-10","v":22},{"d":"2025-12-12","v":25},{"d":"2025-12-14","v":20},{"d":"2025-12-16","v":11},{"d":"2025-12-18","v":16},{"d":"2025-12-20","v":20},{"d":"2025-12-22","v":24},{"d":"2025-12-24","v":28},{"d":"2025-12-26","v":23},{"d":"2025-12-28","v":25},{"d":"2025-12-30","v":20},
{"d":"2026-01-01","v":24},{"d":"2026-01-03","v":28},{"d":"2026-01-05","v":29},{"d":"2026-01-07","v":42},{"d":"2026-01-09","v":27},{"d":"2026-01-11","v":44},{"d":"2026-01-13","v":50},{"d":"2026-01-14","v":61},{"d":"2026-01-16","v":49},{"d":"2026-01-18","v":44},{"d":"2026-01-20","v":32},{"d":"2026-01-22","v":24},{"d":"2026-01-24","v":28},{"d":"2026-01-26","v":22},{"d":"2026-01-28","v":29},{"d":"2026-01-30","v":20},
{"d":"2026-02-01","v":14},{"d":"2026-02-03","v":17},{"d":"2026-02-05","v":12},{"d":"2026-02-06","v":5},{"d":"2026-02-08","v":8},{"d":"2026-02-10","v":11},{"d":"2026-02-12","v":5},{"d":"2026-02-14","v":9},{"d":"2026-02-16","v":12},{"d":"2026-02-18","v":8},{"d":"2026-02-20","v":10},{"d":"2026-02-22","v":6},{"d":"2026-02-24","v":11},{"d":"2026-02-26","v":13},{"d":"2026-02-28","v":10},
{"d":"2026-03-02","v":14},{"d":"2026-03-04","v":8},{"d":"2026-03-06","v":12},{"d":"2026-03-08","v":22},{"d":"2026-03-10","v":15},{"d":"2026-03-12","v":11},{"d":"2026-03-14","v":9},{"d":"2026-03-16","v":13},{"d":"2026-03-18","v":18},{"d":"2026-03-20","v":28},{"d":"2026-03-22","v":22},{"d":"2026-03-24","v":12},{"d":"2026-03-26","v":10},{"d":"2026-03-28","v":14},{"d":"2026-03-30","v":9},{"d":"2026-03-31","v":11}
]},
"mark":{"type":"line","strokeWidth":4.5,"point":{"filled":true,"size":64,"opacity":1}},
"encoding":{
"x":{"field":"d","type":"temporal",
"scale":{"type":"utc","nice":false,"domain":[{"year":2018,"month":2,"date":1,"utc":true},{"year":2026,"month":3,"date":31,"utc":true}]},
"axis":{"title":null,"format":"%-d %b, %Y","labelAngle":-45,"labelAlign":"right","labelBaseline":"middle","labelPadding":4,"labelOverlap":false,"labelFlush":false,"grid":true,
"values":[{"year":2018,"month":2,"date":1,"utc":true},{"year":2018,"month":3,"date":26,"utc":true},{"year":2018,"month":5,"date":21,"utc":true},{"year":2018,"month":7,"date":13,"utc":true},{"year":2018,"month":9,"date":4,"utc":true},{"year":2018,"month":10,"date":27,"utc":true},{"year":2018,"month":12,"date":19,"utc":true},
{"year":2019,"month":2,"date":10,"utc":true},{"year":2019,"month":4,"date":4,"utc":true},{"year":2019,"month":5,"date":27,"utc":true},{"year":2019,"month":7,"date":19,"utc":true},{"year":2019,"month":9,"date":10,"utc":true},{"year":2019,"month":11,"date":2,"utc":true},{"year":2019,"month":12,"date":25,"utc":true},
{"year":2020,"month":2,"date":16,"utc":true},{"year":2020,"month":4,"date":9,"utc":true},{"year":2020,"month":6,"date":1,"utc":true},{"year":2020,"month":7,"date":24,"utc":true},{"year":2020,"month":9,"date":15,"utc":true},{"year":2020,"month":11,"date":7,"utc":true},{"year":2020,"month":12,"date":30,"utc":true},
{"year":2021,"month":2,"date":21,"utc":true},{"year":2021,"month":4,"date":15,"utc":true},{"year":2021,"month":6,"date":7,"utc":true},{"year":2021,"month":7,"date":30,"utc":true},{"year":2021,"month":9,"date":21,"utc":true},{"year":2021,"month":11,"date":13,"utc":true},
{"year":2022,"month":1,"date":5,"utc":true},{"year":2022,"month":2,"date":27,"utc":true},{"year":2022,"month":4,"date":21,"utc":true},{"year":2022,"month":6,"date":13,"utc":true},{"year":2022,"month":8,"date":5,"utc":true},{"year":2022,"month":9,"date":27,"utc":true},{"year":2022,"month":11,"date":19,"utc":true},
{"year":2023,"month":1,"date":11,"utc":true},{"year":2023,"month":3,"date":5,"utc":true},{"year":2023,"month":4,"date":27,"utc":true},{"year":2023,"month":6,"date":19,"utc":true},{"year":2023,"month":8,"date":11,"utc":true},{"year":2023,"month":10,"date":3,"utc":true},{"year":2023,"month":11,"date":25,"utc":true},
{"year":2024,"month":1,"date":17,"utc":true},{"year":2024,"month":3,"date":10,"utc":true},{"year":2024,"month":5,"date":2,"utc":true},{"year":2024,"month":6,"date":24,"utc":true},{"year":2024,"month":8,"date":16,"utc":true},{"year":2024,"month":10,"date":8,"utc":true},{"year":2024,"month":12,"date":1,"utc":true},
{"year":2025,"month":1,"date":23,"utc":true},{"year":2025,"month":3,"date":17,"utc":true},{"year":2025,"month":5,"date":9,"utc":true},{"year":2025,"month":7,"date":1,"utc":true},{"year":2025,"month":8,"date":23,"utc":true},{"year":2025,"month":10,"date":15,"utc":true},{"year":2025,"month":12,"date":7,"utc":true},
{"year":2026,"month":1,"date":29,"utc":true},{"year":2026,"month":3,"date":23,"utc":true}]}},
"y":{"field":"v","type":"quantitative","scale":{"domain":[0,100],"nice":false},
"axis":{"title":"Value","titlePadding":14,"labelPadding":3,"grid":true,"values":[0,10,20,30,40,50,60,70,80,90,100]}},
"color":{"datum":"Crypto Fear & Greed Index","type":"nominal","scale":{"range":["#cccccc"]},
"legend":{"orient":"none","legendX":621,"legendY":-33,"title":null,"padding":0,"labelFont":"Liberation Sans","labelFontSize":18,"labelColor":"#666666","labelLimit":400,"labelOffset":30,"symbolType":"M-3,-1H3V1H-3Z","symbolSize":430,"symbolStrokeWidth":0,"symbolFillColor":"#cccccc",
"encode":{"symbols":{"update":{"fill":{"value":"#cccccc"},"stroke":{"value":"transparent"},"strokeWidth":{"value":0},"opacity":{"value":1}}}}}}
}
}
